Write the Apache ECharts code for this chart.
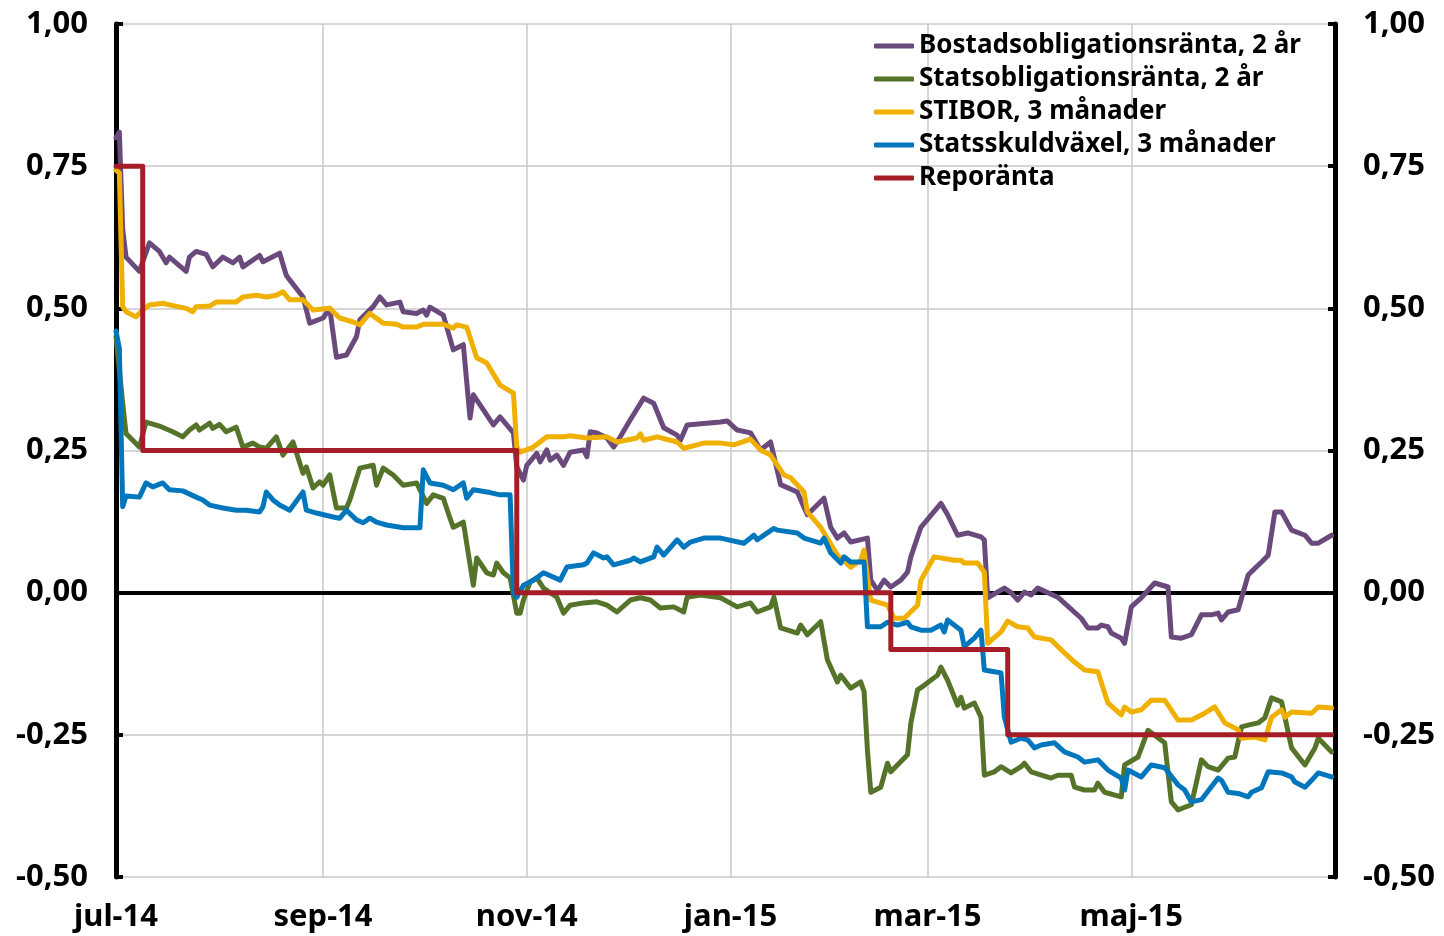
<!DOCTYPE html>
<html>
<head>
<meta charset="utf-8">
<title>Räntor</title>
<script src="https://cdn.jsdelivr.net/npm/echarts@6/dist/echarts.min.js"></script>
<style>
  html, body { margin: 0; padding: 0; background: #fff; }
  #chart { width: 1444px; height: 936px; }
</style>
</head>
<body>
<div id="chart"></div>
<script>
const monthNames = ['jan', 'feb', 'mar', 'apr', 'maj', 'jun', 'jul', 'aug', 'sep', 'okt', 'nov', 'dec']
const labelMonths = ['01', '03', '05', '07', '09', '11']

// one category per calendar day, 1 jul 2014 .. 1 jul 2015
const categories = []
for (let t = Date.UTC(2014, 6, 1); t <= Date.UTC(2015, 6, 1); t += 86400000) {
  categories.push(new Date(t).toISOString().slice(0, 10))
}

const bostadsData = [
  ['2014-07-01', 0.80], ['2014-07-02', 0.81], ['2014-07-03', 0.64], ['2014-07-04', 0.59], ['2014-07-08', 0.565],
  ['2014-07-11', 0.615], ['2014-07-14', 0.60], ['2014-07-16', 0.58], ['2014-07-17', 0.59], ['2014-07-19', 0.58],
  ['2014-07-22', 0.565], ['2014-07-23', 0.59], ['2014-07-25', 0.60], ['2014-07-28', 0.595], ['2014-07-30', 0.573],
  ['2014-08-02', 0.59], ['2014-08-05', 0.58], ['2014-08-07', 0.59], ['2014-08-08', 0.573], ['2014-08-13', 0.593],
  ['2014-08-14', 0.582], ['2014-08-19', 0.597], ['2014-08-21', 0.558], ['2014-08-22', 0.55], ['2014-08-26', 0.52],
  ['2014-08-28', 0.474], ['2014-09-01', 0.483], ['2014-09-03', 0.50], ['2014-09-05', 0.414], ['2014-09-08', 0.418],
  ['2014-09-11', 0.45], ['2014-09-12', 0.48], ['2014-09-16', 0.503], ['2014-09-18', 0.52], ['2014-09-20', 0.506],
  ['2014-09-24', 0.511], ['2014-09-25', 0.494], ['2014-09-29', 0.491], ['2014-10-01', 0.497], ['2014-10-02', 0.488],
  ['2014-10-03', 0.502], ['2014-10-07', 0.488], ['2014-10-10', 0.427], ['2014-10-13', 0.436], ['2014-10-15', 0.307],
  ['2014-10-16', 0.348], ['2014-10-22', 0.295], ['2014-10-24', 0.309], ['2014-10-28', 0.281], ['2014-10-29', 0.221],
  ['2014-10-31', 0.198], ['2014-11-01', 0.224], ['2014-11-04', 0.245], ['2014-11-05', 0.23], ['2014-11-07', 0.251],
  ['2014-11-08', 0.233], ['2014-11-10', 0.242], ['2014-11-12', 0.224], ['2014-11-14', 0.247], ['2014-11-18', 0.251],
  ['2014-11-19', 0.239], ['2014-11-20', 0.283], ['2014-11-22', 0.281], ['2014-11-25', 0.272], ['2014-11-27', 0.256],
  ['2014-11-29', 0.274], ['2014-12-02', 0.304], ['2014-12-06', 0.342], ['2014-12-09', 0.333], ['2014-12-12', 0.29],
  ['2014-12-16', 0.277], ['2014-12-17', 0.268], ['2014-12-19', 0.295], ['2014-12-29', 0.30], ['2014-12-31', 0.302],
  ['2015-01-03', 0.286], ['2015-01-07', 0.281], ['2015-01-10', 0.251], ['2015-01-13', 0.265], ['2015-01-16', 0.19],
  ['2015-01-21', 0.177], ['2015-01-24', 0.137], ['2015-01-29', 0.166], ['2015-01-31', 0.115], ['2015-02-02', 0.096],
  ['2015-02-04', 0.105], ['2015-02-06', 0.089], ['2015-02-11', 0.096], ['2015-02-12', 0.022], ['2015-02-14', 0.004],
  ['2015-02-16', 0.022], ['2015-02-18', 0.01], ['2015-02-21', 0.022], ['2015-02-23', 0.036], ['2015-02-24', 0.063],
  ['2015-02-27', 0.115], ['2015-03-05', 0.157], ['2015-03-07', 0.137], ['2015-03-10', 0.101], ['2015-03-13', 0.105],
  ['2015-03-17', 0.098], ['2015-03-18', 0.093], ['2015-03-19', -0.009], ['2015-03-24', 0.008], ['2015-03-26', 0.0],
  ['2015-03-28', -0.013], ['2015-03-30', 0.001], ['2015-04-01', -0.004], ['2015-04-03', 0.008], ['2015-04-09', -0.008],
  ['2015-04-16', -0.045], ['2015-04-18', -0.062], ['2015-04-21', -0.062], ['2015-04-22', -0.057], ['2015-04-24', -0.06],
  ['2015-04-25', -0.071], ['2015-04-28', -0.08], ['2015-04-29', -0.089], ['2015-05-01', -0.025], ['2015-05-04', -0.009],
  ['2015-05-08', 0.017], ['2015-05-12', 0.01], ['2015-05-13', -0.078], ['2015-05-16', -0.08], ['2015-05-19', -0.074],
  ['2015-05-22', -0.039], ['2015-05-25', -0.039], ['2015-05-27', -0.036], ['2015-05-28', -0.048], ['2015-05-30', -0.034],
  ['2015-06-02', -0.03], ['2015-06-05', 0.031], ['2015-06-06', 0.037], ['2015-06-09', 0.054], ['2015-06-11', 0.066],
  ['2015-06-13', 0.142], ['2015-06-15', 0.142], ['2015-06-18', 0.11], ['2015-06-22', 0.101], ['2015-06-24', 0.087],
  ['2015-06-26', 0.087], ['2015-06-30', 0.101]
]

const statsoblData = [
  ['2014-07-01', 0.45], ['2014-07-03', 0.333], ['2014-07-04', 0.28], ['2014-07-08', 0.256], ['2014-07-10', 0.30],
  ['2014-07-14', 0.293], ['2014-07-18', 0.283], ['2014-07-21', 0.274], ['2014-07-23', 0.286], ['2014-07-25', 0.295],
  ['2014-07-26', 0.286], ['2014-07-29', 0.298], ['2014-07-30', 0.289], ['2014-08-01', 0.296], ['2014-08-03', 0.283],
  ['2014-08-06', 0.291], ['2014-08-08', 0.256], ['2014-08-11', 0.263], ['2014-08-13', 0.256], ['2014-08-15', 0.254],
  ['2014-08-18', 0.274], ['2014-08-20', 0.242], ['2014-08-23', 0.265], ['2014-08-26', 0.21], ['2014-08-27', 0.221],
  ['2014-08-29', 0.184], ['2014-08-31', 0.195], ['2014-09-01', 0.189], ['2014-09-03', 0.207], ['2014-09-05', 0.149],
  ['2014-09-08', 0.149], ['2014-09-09', 0.163], ['2014-09-12', 0.219], ['2014-09-16', 0.224], ['2014-09-17', 0.189],
  ['2014-09-19', 0.219], ['2014-09-22', 0.207], ['2014-09-25', 0.189], ['2014-09-29', 0.193], ['2014-10-02', 0.157],
  ['2014-10-04', 0.172], ['2014-10-07', 0.166], ['2014-10-09', 0.131], ['2014-10-10', 0.115], ['2014-10-13', 0.124],
  ['2014-10-16', 0.013], ['2014-10-17', 0.061], ['2014-10-20', 0.035], ['2014-10-22', 0.031], ['2014-10-23', 0.052],
  ['2014-10-25', 0.035], ['2014-10-27', 0.026], ['2014-10-29', -0.036], ['2014-10-30', -0.036], ['2014-10-31', -0.013],
  ['2014-11-02', 0.019], ['2014-11-04', 0.026], ['2014-11-06', 0.008], ['2014-11-10', -0.008], ['2014-11-12', -0.036],
  ['2014-11-14', -0.022], ['2014-11-18', -0.018], ['2014-11-22', -0.016], ['2014-11-25', -0.022], ['2014-11-28', -0.034],
  ['2014-12-02', -0.013], ['2014-12-05', -0.009], ['2014-12-08', -0.013], ['2014-12-11', -0.027], ['2014-12-15', -0.025],
  ['2014-12-18', -0.034], ['2014-12-19', -0.008], ['2014-12-23', -0.004], ['2014-12-29', -0.009], ['2015-01-03', -0.025],
  ['2015-01-07', -0.018], ['2015-01-09', -0.034], ['2015-01-13', -0.025], ['2015-01-14', -0.008], ['2015-01-16', -0.062],
  ['2015-01-21', -0.071], ['2015-01-22', -0.057], ['2015-01-24', -0.074], ['2015-01-28', -0.051], ['2015-01-30', -0.118],
  ['2015-02-02', -0.157], ['2015-02-03', -0.145], ['2015-02-06', -0.168], ['2015-02-09', -0.157], ['2015-02-10', -0.174],
  ['2015-02-11', -0.277], ['2015-02-12', -0.351], ['2015-02-15', -0.342], ['2015-02-17', -0.30], ['2015-02-18', -0.315],
  ['2015-02-23', -0.285], ['2015-02-24', -0.229], ['2015-02-26', -0.171], ['2015-02-28', -0.163], ['2015-03-04', -0.145],
  ['2015-03-05', -0.131], ['2015-03-07', -0.154], ['2015-03-10', -0.198], ['2015-03-11', -0.184], ['2015-03-12', -0.203],
  ['2015-03-15', -0.194], ['2015-03-17', -0.219], ['2015-03-18', -0.321], ['2015-03-21', -0.315], ['2015-03-23', -0.306],
  ['2015-03-26', -0.317], ['2015-03-29', -0.306], ['2015-03-30', -0.30], ['2015-04-01', -0.315], ['2015-04-07', -0.326],
  ['2015-04-09', -0.321], ['2015-04-13', -0.321], ['2015-04-14', -0.342], ['2015-04-17', -0.347], ['2015-04-20', -0.347],
  ['2015-04-21', -0.335], ['2015-04-23', -0.351], ['2015-04-28', -0.359], ['2015-04-29', -0.303], ['2015-05-03', -0.289],
  ['2015-05-06', -0.242], ['2015-05-11', -0.264], ['2015-05-13', -0.368], ['2015-05-15', -0.382], ['2015-05-19', -0.373],
  ['2015-05-22', -0.294], ['2015-05-24', -0.306], ['2015-05-27', -0.312], ['2015-05-30', -0.291], ['2015-06-01', -0.289],
  ['2015-06-03', -0.236], ['2015-06-05', -0.233], ['2015-06-08', -0.229], ['2015-06-10', -0.22], ['2015-06-12', -0.185],
  ['2015-06-15', -0.192], ['2015-06-18', -0.273], ['2015-06-22', -0.303], ['2015-06-25', -0.273], ['2015-06-26', -0.256],
  ['2015-06-30', -0.28]
]

const stiborData = [
  ['2014-07-01', 0.743], ['2014-07-02', 0.738], ['2014-07-03', 0.503], ['2014-07-04', 0.494], ['2014-07-07', 0.485],
  ['2014-07-09', 0.497], ['2014-07-11', 0.506], ['2014-07-15', 0.509], ['2014-07-17', 0.506], ['2014-07-22', 0.50],
  ['2014-07-24', 0.494], ['2014-07-25', 0.503], ['2014-07-29', 0.504], ['2014-07-31', 0.511], ['2014-08-06', 0.511],
  ['2014-08-08', 0.52], ['2014-08-12', 0.523], ['2014-08-15', 0.52], ['2014-08-18', 0.523], ['2014-08-20', 0.529],
  ['2014-08-22', 0.515], ['2014-08-26', 0.515], ['2014-08-29', 0.497], ['2014-09-03', 0.50], ['2014-09-06', 0.483],
  ['2014-09-10', 0.476], ['2014-09-12', 0.471], ['2014-09-15', 0.491], ['2014-09-19', 0.474], ['2014-09-23', 0.472],
  ['2014-09-25', 0.467], ['2014-09-29', 0.467], ['2014-10-01', 0.472], ['2014-10-07', 0.472], ['2014-10-10', 0.465],
  ['2014-10-11', 0.471], ['2014-10-14', 0.467], ['2014-10-17', 0.413], ['2014-10-20', 0.404], ['2014-10-24', 0.365],
  ['2014-10-28', 0.351], ['2014-10-29', 0.256], ['2014-10-30', 0.247], ['2014-11-03', 0.256], ['2014-11-07', 0.274],
  ['2014-11-12', 0.274], ['2014-11-14', 0.276], ['2014-11-19', 0.272], ['2014-11-25', 0.274], ['2014-11-28', 0.265],
  ['2014-12-04', 0.272], ['2014-12-05', 0.279], ['2014-12-06', 0.268], ['2014-12-10', 0.274], ['2014-12-16', 0.265],
  ['2014-12-18', 0.254], ['2014-12-24', 0.263], ['2014-12-29', 0.263], ['2015-01-02', 0.26], ['2015-01-07', 0.27],
  ['2015-01-10', 0.251], ['2015-01-13', 0.242], ['2015-01-17', 0.207], ['2015-01-19', 0.202], ['2015-01-23', 0.177],
  ['2015-01-24', 0.142], ['2015-01-28', 0.115], ['2015-02-02', 0.066], ['2015-02-06', 0.045], ['2015-02-09', 0.057],
  ['2015-02-10', 0.075], ['2015-02-11', 0.027], ['2015-02-12', -0.013], ['2015-02-17', -0.022], ['2015-02-19', -0.045],
  ['2015-02-22', -0.045], ['2015-02-26', -0.022], ['2015-02-27', 0.022], ['2015-03-03', 0.063], ['2015-03-09', 0.057],
  ['2015-03-11', 0.057], ['2015-03-12', 0.052], ['2015-03-16', 0.052], ['2015-03-18', 0.036], ['2015-03-19', -0.089],
  ['2015-03-23', -0.069], ['2015-03-25', -0.05], ['2015-03-28', -0.06], ['2015-03-31', -0.062], ['2015-04-02', -0.078],
  ['2015-04-07', -0.083], ['2015-04-11', -0.106], ['2015-04-14', -0.122], ['2015-04-17', -0.136], ['2015-04-21', -0.139],
  ['2015-04-24', -0.194], ['2015-04-28', -0.215], ['2015-04-29', -0.201], ['2015-05-01', -0.21], ['2015-05-04', -0.206],
  ['2015-05-07', -0.189], ['2015-05-11', -0.189], ['2015-05-15', -0.224], ['2015-05-19', -0.224], ['2015-05-23', -0.212],
  ['2015-05-26', -0.201], ['2015-05-29', -0.229], ['2015-06-02', -0.241], ['2015-06-03', -0.256], ['2015-06-07', -0.254],
  ['2015-06-10', -0.259], ['2015-06-12', -0.219], ['2015-06-15', -0.206], ['2015-06-16', -0.219], ['2015-06-18', -0.21],
  ['2015-06-24', -0.212], ['2015-06-26', -0.201], ['2015-06-30', -0.203]
]

const vaxelData = [
  ['2014-07-01', 0.46], ['2014-07-02', 0.43], ['2014-07-03', 0.151], ['2014-07-04', 0.17], ['2014-07-08', 0.168],
  ['2014-07-10', 0.193], ['2014-07-12', 0.186], ['2014-07-15', 0.193], ['2014-07-17', 0.181], ['2014-07-21', 0.179],
  ['2014-07-25', 0.168], ['2014-07-27', 0.163], ['2014-07-29', 0.154], ['2014-08-02', 0.149], ['2014-08-06', 0.145],
  ['2014-08-09', 0.145], ['2014-08-13', 0.142], ['2014-08-14', 0.151], ['2014-08-15', 0.177], ['2014-08-17', 0.163],
  ['2014-08-19', 0.154], ['2014-08-22', 0.145], ['2014-08-26', 0.177], ['2014-08-27', 0.145], ['2014-08-30', 0.14],
  ['2014-09-04', 0.133], ['2014-09-06', 0.131], ['2014-09-08', 0.145], ['2014-09-11', 0.128], ['2014-09-13', 0.123],
  ['2014-09-15', 0.131], ['2014-09-17', 0.124], ['2014-09-20', 0.119], ['2014-09-25', 0.114], ['2014-09-30', 0.114],
  ['2014-10-01', 0.216], ['2014-10-03', 0.193], ['2014-10-07', 0.189], ['2014-10-10', 0.181], ['2014-10-13', 0.193],
  ['2014-10-14', 0.166], ['2014-10-16', 0.181], ['2014-10-21', 0.176], ['2014-10-24', 0.172], ['2014-10-27', 0.172],
  ['2014-10-28', 0.0], ['2014-10-29', -0.008], ['2014-10-31', 0.013], ['2014-11-03', 0.022], ['2014-11-06', 0.035],
  ['2014-11-11', 0.022], ['2014-11-13', 0.045], ['2014-11-18', 0.049], ['2014-11-19', 0.052], ['2014-11-21', 0.07],
  ['2014-11-24', 0.061], ['2014-11-25', 0.063], ['2014-11-27', 0.049], ['2014-12-02', 0.057], ['2014-12-03', 0.061],
  ['2014-12-05', 0.054], ['2014-12-09', 0.063], ['2014-12-10', 0.08], ['2014-12-12', 0.066], ['2014-12-16', 0.093],
  ['2014-12-18', 0.08], ['2014-12-20', 0.089], ['2014-12-24', 0.096], ['2014-12-29', 0.096], ['2015-01-05', 0.087],
  ['2015-01-08', 0.101], ['2015-01-09', 0.093], ['2015-01-14', 0.113], ['2015-01-15', 0.11], ['2015-01-21', 0.105],
  ['2015-01-23', 0.096], ['2015-01-28', 0.087], ['2015-01-29', 0.096], ['2015-01-31', 0.07], ['2015-02-03', 0.052],
  ['2015-02-04', 0.063], ['2015-02-06', 0.054], ['2015-02-10', 0.054], ['2015-02-11', -0.06], ['2015-02-15', -0.06],
  ['2015-02-17', -0.052], ['2015-02-20', -0.057], ['2015-02-23', -0.052], ['2015-02-24', -0.06], ['2015-02-27', -0.066],
  ['2015-03-02', -0.066], ['2015-03-05', -0.057], ['2015-03-06', -0.069], ['2015-03-07', -0.048], ['2015-03-11', -0.066],
  ['2015-03-12', -0.095], ['2015-03-15', -0.08], ['2015-03-17', -0.066], ['2015-03-18', -0.136], ['2015-03-21', -0.139],
  ['2015-03-23', -0.141], ['2015-03-24', -0.219], ['2015-03-26', -0.263], ['2015-03-29', -0.256], ['2015-03-31', -0.259],
  ['2015-04-02', -0.273], ['2015-04-04', -0.268], ['2015-04-08', -0.264], ['2015-04-11', -0.28], ['2015-04-15', -0.289],
  ['2015-04-17', -0.298], ['2015-04-21', -0.294], ['2015-04-24', -0.312], ['2015-04-28', -0.326], ['2015-04-29', -0.347],
  ['2015-04-30', -0.312], ['2015-05-04', -0.324], ['2015-05-07', -0.303], ['2015-05-11', -0.308], ['2015-05-15', -0.338],
  ['2015-05-17', -0.347], ['2015-05-19', -0.368], ['2015-05-22', -0.364], ['2015-05-27', -0.326], ['2015-05-28', -0.33],
  ['2015-05-30', -0.351], ['2015-06-02', -0.353], ['2015-06-05', -0.359], ['2015-06-06', -0.351], ['2015-06-09', -0.343],
  ['2015-06-11', -0.315], ['2015-06-15', -0.317], ['2015-06-18', -0.324], ['2015-06-19', -0.333], ['2015-06-22', -0.342],
  ['2015-06-24', -0.33], ['2015-06-26', -0.317], ['2015-06-30', -0.324]
]

// policy rate changes (step line)
const repoData = [
  ['2014-07-01', 0.75], ['2014-07-09', 0.25], ['2014-10-29', 0.0], ['2015-02-18', -0.10], ['2015-03-25', -0.25],
  ['2015-06-30', -0.25]
]

const seriesNames = [
  'Bostadsobligationsränta, 2 år',
  'Statsobligationsränta, 2 år',
  'STIBOR, 3 månader',
  'Statsskuldväxel, 3 månader',
  'Reporänta'
]
const seriesColors = ['#6a4a7c', '#55742a', '#f0b000', '#0077bd', '#a51d27']
const seriesData = [bostadsData, statsoblData, stiborData, vaxelData, repoData]

const FONT = 'Noto Sans'

const isLabelDay = (index, value) =>
  value.slice(8) === '01' && labelMonths.includes(value.slice(5, 7)) && value !== '2015-07-01'

const fmtDate = value => monthNames[+value.slice(5, 7) - 1] + '-' + value.slice(2, 4)
const fmtRate = v => v.toFixed(2).replace('.', ',')

const chart = echarts.init(document.getElementById('chart'))

const yAxisBase = {
  type: 'value',
  min: -0.5,
  max: 1,
  interval: 0.25,
  axisLine: { show: true, lineStyle: { color: '#000', width: 5 } },
  axisTick: { show: true, inside: true, length: 7, lineStyle: { color: '#000', width: 4 } },
  axisLabel: {
    formatter: fmtRate,
    color: '#000',
    fontFamily: FONT,
    fontWeight: 'bold',
    fontSize: 31,
    margin: 28
  }
}

const option = {
  animation: false,
  backgroundColor: '#fff',
  grid: { left: 116, right: 109, top: 24, bottom: 59 },
  legend: {
    orient: 'vertical',
    left: 869,
    top: 28,
    itemWidth: 40,
    itemHeight: 5,
    itemGap: 7,
    icon: 'roundRect',
    data: seriesNames,
    textStyle: { color: '#000', fontFamily: FONT, fontWeight: 'bold', fontSize: 26, lineHeight: 26 }
  },
  xAxis: [
    {
      type: 'category',
      data: categories,
      boundaryGap: false,
      axisLine: { show: false },
      axisTick: { show: false },
      axisLabel: {
        interval: isLabelDay,
        formatter: fmtDate,
        color: '#000',
        fontFamily: FONT,
        fontWeight: 'bold',
        fontSize: 31,
        margin: 25
      },
      splitLine: { show: true, interval: isLabelDay, lineStyle: { color: '#c8c8c8', width: 1.5 } }
    },
    {
      // zero line
      type: 'category',
      data: categories,
      boundaryGap: false,
      position: 'bottom',
      axisLine: { show: true, onZero: true, lineStyle: { color: '#000', width: 4 } },
      axisTick: { show: false },
      axisLabel: { show: false },
      splitLine: { show: false }
    }
  ],
  yAxis: [
    Object.assign({}, yAxisBase, {
      position: 'left',
      splitLine: { show: true, lineStyle: { color: '#c8c8c8', width: 1.5 } }
    }),
    Object.assign({}, yAxisBase, {
      position: 'right',
      splitLine: { show: false }
    })
  ],
  series: seriesNames.map((name, i) => ({
    name,
    type: 'line',
    data: seriesData[i],
    step: name === 'Reporänta' ? 'end' : false,
    symbol: 'none',
    color: seriesColors[i],
    lineStyle: { width: 5, color: seriesColors[i], cap: 'round', join: 'round' },
    z: 2 + i
  }))
}

chart.setOption(option)
</script>
</body>
</html>
